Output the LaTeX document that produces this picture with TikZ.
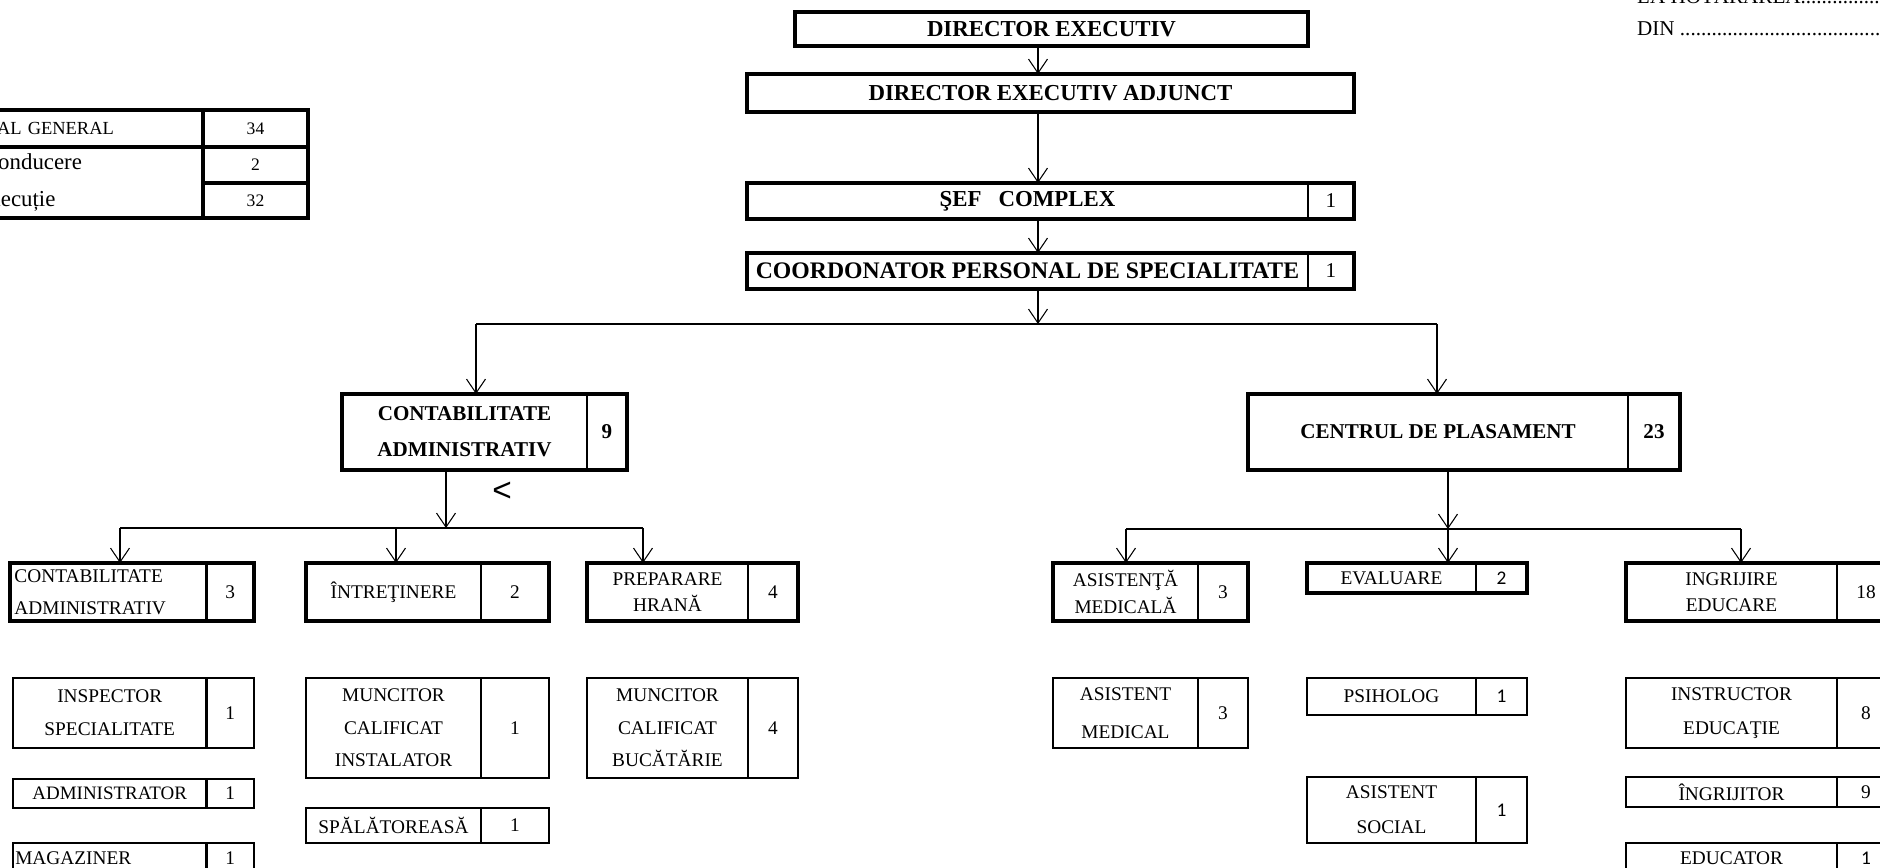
\documentclass[tikz,border=0pt]{standalone}
\usepackage{fontspec}
\setmainfont{Liberation Serif}
\newfontfamily\calibri{Carlito}
\newfontfamily\arialfont{Liberation Sans}
\usetikzlibrary{positioning, arrows.meta}
\tikzset{
  >={Straight Barb[length=2.8mm, width=3.8mm]},
  link/.style={->, line width=0.6pt},
  bus/.style={line width=0.7pt},
  heavy/.style={line width=2.3pt},
  boxed/.style={draw, line width=1.5pt, outer sep=0pt, inner sep=1pt, align=center},
  post/.style={boxed, anchor=north west, font=\fontsize{11}{19}\selectfont},
  tight/.style={font=\fontsize{11}{15}\selectfont},
  tally/.style={boxed, font=\fontsize{11}{13}\selectfont},
  sanstally/.style={tally, font=\calibri\fontsize{11}{13}\selectfont},
  head/.style={boxed, line width=2.3pt, font=\bfseries\fontsize{13}{15}\selectfont},
  chief/.style={post, font=\bfseries\fontsize{13}{15}\selectfont},
  dept/.style={post, font=\bfseries\fontsize{12}{20.5}\selectfont},
  cell/.style={draw, line width=2.5pt, outer sep=0pt, inner sep=1pt},
}

\begin{document}
\begin{tikzpicture}
	\useasboundingbox (0,0) rectangle (37.6,-17.36);
	\clip (0,0) rectangle (37.6,-17.36);

	% staff table
	\node[cell, anchor=north west, minimum width=4.84cm, minimum height=0.74cm, text width=4.64cm, align=left, inner xsep=0.1cm, font=\fontsize{10.5}{12}\selectfont] (tot) at (-0.78,-2.20) {\hspace*{-0.06cm}TOTAL GENERAL};
	\node[cell, minimum width=2.10cm, minimum height=0.74cm, right=0pt of tot, font=\fontsize{10}{12}\selectfont] (totn) {34};
	\node[cell, anchor=north west, minimum width=4.84cm, minimum height=1.42cm, text width=3.96cm, align=left, inner xsep=0.44cm, font=\fontsize{13}{21}\selectfont] (staff) at (-0.78,-2.94) {Conducere\\\hspace*{-0.15cm}Execuție};
	\node[cell, anchor=north west, minimum width=2.10cm, minimum height=0.72cm, font=\fontsize{10}{12}\selectfont] (condn) at (4.06,-2.94) {2};
	\node[cell, minimum width=2.10cm, minimum height=0.70cm, below=0pt of condn, font=\fontsize{10}{12}\selectfont] (execn) {32};

	% approval note
	\node[anchor=base west, font=\fontsize{12}{14}\selectfont] (anexa) at (32.62,-0.08) {LA HOTĂRÂREA..................................};
	\node[anchor=base west, font=\fontsize{12}{14}\selectfont] (din) at (32.62,-0.72) {DIN ..................................................};

	% heads
	\node[head, minimum width=10.26cm, minimum height=0.68cm] (dir) at (21.03,-0.58) {DIRECTOR EXECUTIV};
	\node[head, minimum width=12.14cm, minimum height=0.76cm] (adj) at (21.01,-1.86) {DIRECTOR EXECUTIV ADJUNCT};
	\node[chief, minimum width=11.22cm, minimum height=0.72cm] (sef) at (14.94,-3.66) {ŞEF~~~COMPLEX};
	\node[tally, font=\fontsize{12}{14}\selectfont, minimum width=0.92cm, minimum height=0.72cm, right=0pt of sef] (sefn) {1};
	\node[chief, font=\bfseries\fontsize{13.5}{15}\selectfont, minimum width=11.22cm, minimum height=0.72cm] (coord) at (14.94,-5.06) {COORDONATOR PERSONAL DE SPECIALITATE};
	\node[tally, font=\fontsize{12}{14}\selectfont, minimum width=0.92cm, minimum height=0.72cm, right=0pt of coord] (coordn) {1};

	% departments
	\node[dept, minimum width=4.90cm, minimum height=1.52cm] (contab) at (6.84,-7.88) {CONTABILITATE\\ADMINISTRATIV};
	\node[tally, font=\bfseries\fontsize{12}{14}\selectfont, minimum width=0.80cm, minimum height=1.52cm, right=0pt of contab] (contabn) {9};
	\node[dept, minimum width=7.60cm, minimum height=1.52cm] (centrul) at (24.96,-7.88) {CENTRUL DE PLASAMENT};
	\node[tally, font=\bfseries\fontsize{12}{14}\selectfont, minimum width=1.04cm, minimum height=1.52cm, right=0pt of centrul] (centruln) {23};

	% compartments
	\node[post, text width=3.75cm, align=left, minimum width=3.93cm, minimum height=1.16cm, font=\fontsize{11}{18}\selectfont] (ca) at (0.20,-11.26) {CONTABILITATE\\ADMINISTRATIV};
	\node[tally, minimum width=0.95cm, minimum height=1.16cm, right=0pt of ca] (can) {3};
	\node[post, minimum width=3.50cm, minimum height=1.16cm] (intr) at (6.12,-11.26) {ÎNTREŢINERE};
	\node[tally, minimum width=1.36cm, minimum height=1.16cm, right=0pt of intr] (intrn) {2};
	\node[post, tight, minimum width=3.22cm, minimum height=1.16cm] (prep) at (11.74,-11.26) {PREPARARE\\HRANĂ};
	\node[tally, minimum width=1.00cm, minimum height=1.16cm, right=0pt of prep] (prepn) {4};
	\node[post, tight, minimum width=2.90cm, minimum height=1.16cm] (asm) at (21.06,-11.26) {ASISTENŢĂ\\MEDICALĂ};
	\node[tally, minimum width=1.00cm, minimum height=1.16cm, right=0pt of asm] (asmn) {3};
	\node[post, minimum width=3.38cm, minimum height=0.60cm] (eval) at (26.14,-11.26) {EVALUARE};
	\node[sanstally, minimum width=1.02cm, minimum height=0.60cm, right=0pt of eval] (evaln) {2};
	\node[post, tight, minimum width=4.22cm, minimum height=1.16cm] (ingr) at (32.52,-11.26) {INGRIJIRE\\EDUCARE};
	\node[tally, minimum width=1.16cm, minimum height=1.16cm, right=0pt of ingr] (ingrn) {18};

	% posts
	\node[post, minimum width=3.87cm, minimum height=1.40cm] (insp) at (0.26,-13.56) {INSPECTOR\\SPECIALITATE};
	\node[tally, minimum width=0.95cm, minimum height=1.40cm, right=0pt of insp] (inspn) {1};
	\node[post, minimum width=3.87cm, minimum height=0.58cm, font=\fontsize{10.8}{12}\selectfont] (admin) at (0.26,-15.58) {ADMINISTRATOR};
	\node[tally, minimum width=0.95cm, minimum height=0.58cm, right=0pt of admin] (adminn) {1};
	\node[post, text width=3.78cm, align=left, minimum width=3.87cm, minimum height=0.60cm] (mag) at (0.26,-16.86) {MAGAZINER};
	\node[tally, minimum width=0.95cm, minimum height=0.60cm, right=0pt of mag] (magn) {1};

	\node[post, minimum width=3.50cm, minimum height=2.00cm, font=\fontsize{11}{18.5}\selectfont] (mci) at (6.12,-13.56) {MUNCITOR\\CALIFICAT\\INSTALATOR};
	\node[tally, minimum width=1.36cm, minimum height=2.00cm, right=0pt of mci] (mcin) {1};
	\node[post, minimum width=3.50cm, minimum height=0.70cm] (spal) at (6.12,-16.16) {SPĂLĂTOREASĂ};
	\node[tally, minimum width=1.36cm, minimum height=0.70cm, right=0pt of spal] (spaln) {1};

	\node[post, minimum width=3.22cm, minimum height=2.00cm, font=\fontsize{11}{18.5}\selectfont] (mcb) at (11.74,-13.56) {MUNCITOR\\CALIFICAT\\BUCĂTĂRIE};
	\node[tally, minimum width=1.00cm, minimum height=2.00cm, right=0pt of mcb] (mcbn) {4};

	\node[post, minimum width=2.90cm, minimum height=1.40cm, font=\fontsize{11}{21.5}\selectfont] (asmed) at (21.06,-13.56) {ASISTENT\\MEDICAL};
	\node[tally, minimum width=1.00cm, minimum height=1.40cm, right=0pt of asmed] (asmedn) {3};

	\node[post, minimum width=3.38cm, minimum height=0.74cm] (psih) at (26.14,-13.56) {PSIHOLOG};
	\node[sanstally, minimum width=1.02cm, minimum height=0.74cm, right=0pt of psih] (psihn) {1};
	\node[post, minimum width=3.38cm, minimum height=1.32cm, font=\fontsize{11}{20}\selectfont] (assoc) at (26.14,-15.54) {ASISTENT\\SOCIAL};
	\node[sanstally, minimum width=1.02cm, minimum height=1.32cm, right=0pt of assoc] (assocn) {1};

	\node[post, minimum width=4.22cm, minimum height=1.40cm] (instr) at (32.52,-13.56) {INSTRUCTOR\\EDUCAŢIE};
	\node[tally, minimum width=1.16cm, minimum height=1.40cm, right=0pt of instr] (instrn) {8};
	\node[post, minimum width=4.22cm, minimum height=0.60cm] (ingrj) at (32.52,-15.54) {ÎNGRIJITOR};
	\node[tally, minimum width=1.16cm, minimum height=0.60cm, right=0pt of ingrj] (ingrjn) {9};
	\node[post, minimum width=4.22cm, minimum height=0.60cm] (educ) at (32.52,-16.86) {EDUCATOR};
	\node[sanstally, minimum width=1.16cm, minimum height=0.60cm, right=0pt of educ] (educn) {1};

	% heavy outlines
	\draw[heavy] (sef.north west) rectangle (sefn.south east)
		(coord.north west) rectangle (coordn.south east)
		(contab.north west) rectangle (contabn.south east)
		(centrul.north west) rectangle (centruln.south east)
		(ca.north west) rectangle (can.south east)
		(intr.north west) rectangle (intrn.south east)
		(prep.north west) rectangle (prepn.south east)
		(asm.north west) rectangle (asmn.south east)
		(eval.north west) rectangle (evaln.south east)
		(ingr.north west) rectangle (ingrn.south east);

	% connectors
	\coordinate (spine) at (20.76,0);
	\coordinate (busL) at (9.52,-6.48);
	\coordinate (busR) at (28.74,-6.48);
	\coordinate (lbus) at (8.92,-10.56);
	\coordinate (l1) at (2.40,-10.56);
	\coordinate (l2) at (7.92,-10.56);
	\coordinate (l3) at (12.86,-10.56);
	\coordinate (rbus) at (28.96,-10.58);
	\coordinate (r1) at (22.52,-10.58);
	\coordinate (r3) at (34.82,-10.58);

	\draw[link] (dir.south -| spine) -- (adj.north -| spine);
	\draw[link] (adj.south -| spine) -- (sef.north -| spine);
	\draw[link] (sef.south -| spine) -- (coord.north -| spine);
	\draw[link] (coord.south -| spine) -- (spine |- busL);
	\draw[bus] (busL) -- (busR);
	\draw[link] (busL) -- (busL |- contab.north);
	\draw[link] (busR) -- (busR |- centrul.north);

	\draw[link] (contab.south -| lbus) -- (lbus);
	\draw[bus] (l1) -- (l3);
	\draw[link] (l1) -- (l1 |- ca.north);
	\draw[link] (l2) -- (l2 |- intr.north);
	\draw[link] (l3) -- (l3 |- prep.north);
	\node[font=\arialfont\fontsize{19}{19}\selectfont] (stray) at (10.04,-9.84) {<};

	\draw[link] (centrul.south -| rbus) -- (rbus);
	\draw[bus] (r1) -- (r3);
	\draw[link] (r1) -- (r1 |- asm.north);
	\draw[link] (rbus) -- (rbus |- eval.north);
	\draw[link] (r3) -- (r3 |- ingr.north);

\end{tikzpicture}
\end{document}
